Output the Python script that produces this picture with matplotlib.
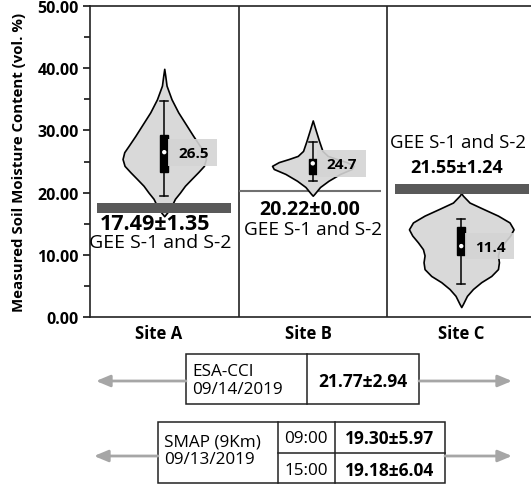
import matplotlib
matplotlib.use("Agg")
import matplotlib.pyplot as plt
from matplotlib.patches import Rectangle
from matplotlib.ticker import MultipleLocator, FormatStrFormatter

plt.rcParams['font.family'] = ['Open Sans', 'DejaVu Sans']

# ---------------- data ----------------
sites = ["Site A", "Site B", "Site C"]
positions = [0.5, 1.5, 2.5]

# violin profiles (value levels and half-widths in px)
violin_a_y = [16.2, 16.8, 18.2, 19.0, 20.0, 21.1, 22.2, 23.3, 24.3, 25.4, 26.5, 27.5, 29.1, 30.8, 32.9, 35.0, 37.2, 38.8, 39.9]
violin_a_w = [0.0, 3.0, 8.3, 10.7, 15.7, 20.7, 27.3, 34.0, 39.7, 41.7, 40.0, 35.7, 29.0, 22.3, 14.0, 7.3, 2.3, 1.0, 0.0]
violin_b_y = [19.5, 19.8, 20.9, 21.9, 23.0, 23.8, 24.3, 24.9, 25.4, 25.9, 26.7, 28.3, 30.0, 31.6]
violin_b_w = [0.0, 1.7, 7.3, 15.7, 27.3, 39.0, 40.7, 34.0, 24.0, 15.0, 9.7, 6.3, 3.0, 0.0]
violin_c_y = [1.6, 2.1, 3.4, 4.5, 5.6, 6.6, 7.7, 8.8, 9.9, 10.9, 12.0, 13.1, 14.1, 15.2, 16.3, 17.4, 18.4, 19.5, 19.9]
violin_c_w = [0.0, 1.7, 5.7, 11.7, 20.0, 30.0, 36.7, 37.7, 36.7, 38.3, 43.3, 49.0, 52.3, 48.3, 36.7, 21.7, 8.3, 1.7, 0.0]

# box plot statistics
medians = [26.5, 24.7, 11.4]
q1 = [23.3, 23.0, 9.9]
q3 = [29.3, 25.4, 14.4]
whis_lo = [19.5, 21.9, 5.3]
whis_hi = [34.8, 28.1, 15.8]
median_labels = ["26.5", "24.7", "11.4"]

# GEE S-1 and S-2 estimates
gee_means = ["17.49±1.35", "20.22±0.00", "21.55±1.24"]
gee_level = [17.49, 20.22, 20.6]
gee_label = "GEE S-1 and S-2"

# coarse products
esa_name = "ESA-CCI\n09/14/2019"
esa_value = "21.77±2.94"
smap_name = "SMAP (9Km)\n09/13/2019"
smap_times = ["09:00", "15:00"]
smap_values = ["19.30±5.97", "19.18±6.04"]

yticks = [0, 10, 20, 30, 40, 50]

# ---------------- figure ----------------
W, H = 531, 485
fig = plt.figure(figsize=(W / 100, H / 100), dpi=100)
ax_l, ax_r, ax_b, ax_t = 90, 531, 318, 7
ax = fig.add_axes([ax_l / W, 1 - ax_b / H, (ax_r - ax_l) / W, (ax_b - ax_t) / H])
px_per_unit = 148.5
ax.set_xlim(0, (ax_r - ax_l) / px_per_unit)
ax.set_ylim(0, 50)

# violins
profiles = [(violin_a_y, violin_a_w), (violin_b_y, violin_b_w), (violin_c_y, violin_c_w)]
vpstats = []
widths = []
for (ys, ws), m in zip(profiles, medians):
    vpstats.append(dict(coords=ys, vals=ws, mean=m, median=m, min=min(ys), max=max(ys)))
    widths.append(2 * max(ws) / px_per_unit)
parts = ax.violin(vpstats, positions=positions, widths=widths, showextrema=False)
for b in parts['bodies']:
    b.set_facecolor('#d9d9d9')
    b.set_edgecolor('black')
    b.set_linewidth(1.2)
    b.set_alpha(1)
    b.set_zorder(2)
    b.set_joinstyle('round')

# boxes
stats = []
for i in range(3):
    stats.append(dict(med=medians[i], q1=q1[i], q3=q3[i], whislo=whis_lo[i], whishi=whis_hi[i], fliers=[]))
ax.bxp(stats, positions=positions, widths=0.055, patch_artist=True, showfliers=False,
       boxprops=dict(facecolor='black', edgecolor='black', linewidth=1),
       whiskerprops=dict(color='black', linewidth=1.1),
       capprops=dict(color='black', linewidth=1.1),
       medianprops=dict(linewidth=0), capwidths=0.055, manage_ticks=False, zorder=3)
ax.scatter(positions, medians, s=10, color='white', zorder=5, edgecolors='none')

# median labels
for p, m, lab in zip(positions, medians, median_labels):
    ax.add_patch(Rectangle((p + 0.028, m - 2.15), 0.33, 4.3, facecolor='#d4d4d4',
                           edgecolor='none', alpha=0.9, zorder=4))
    ax.text(p + 0.095, m - 0.1, lab, fontsize=11, fontweight='bold', va='center', ha='left', zorder=6)

# GEE markers
ax.barh([gee_level[0]], [0.90], left=[0.047], height=1.6, color='#595959', zorder=4)
ax.hlines(gee_level[1], 1.0, 1.96, color='#707070', lw=1.5, zorder=1)
ax.barh([gee_level[2]], [0.90], left=[2.055], height=1.6, color='#595959', zorder=4)

ax.text(0.44, 14.1, gee_means[0], fontsize=15.5, fontweight='bold', ha='center', va='baseline')
ax.text(0.47, 11.2, gee_label, fontsize=14, ha='center', va='baseline')
ax.text(1.48, 16.6, gee_means[1], fontsize=14, fontweight='bold', ha='center', va='baseline')
ax.text(1.50, 13.3, gee_label, fontsize=13.7, ha='center', va='baseline')
ax.text(2.48, 27.3, gee_label, fontsize=13.4, ha='center', va='baseline')
ax.text(2.47, 23.3, gee_means[2], fontsize=13, fontweight='bold', ha='center', va='baseline')

# dividers and spines
for xv in [1, 2]:
    ax.axvline(xv, color='#222222', lw=1.2, zorder=0)
for s in ['left', 'top', 'bottom']:
    ax.spines[s].set_linewidth(1.2)
    ax.spines[s].set_color('#222222')
ax.spines['right'].set_visible(False)

ax.set_yticks(yticks)
ax.yaxis.set_major_formatter(FormatStrFormatter('%.2f'))
ax.yaxis.set_minor_locator(MultipleLocator(5))
ax.tick_params(axis='y', which='major', length=5, width=1.1, pad=3, labelsize=11.5, direction='out')
ax.tick_params(axis='y', which='minor', length=4, width=1.1, direction='out')
for t in ax.get_yticklabels():
    t.set_fontweight('bold')
ax.set_xticks([0.46, 1.47, 2.50])
ax.set_xticklabels(sites, fontsize=12, fontweight='bold')
ax.tick_params(axis='x', length=0, pad=5)
ax.set_ylabel("Measured Soil Moisture Content (vol. %)", fontsize=10.8, fontweight='bold')
ax.yaxis.set_label_coords((26 - ax_l) / (ax_r - ax_l), 0.5)

# ---------------- bottom tables (pixel coords) ----------------
tb = fig.add_axes([0, 0, 1, 1], zorder=-1)
tb.set_xlim(0, W)
tb.set_ylim(H, 0)
tb.axis('off')
lc = '#222222'
arrow_c = '#a6a6a6'

def arrow(x0, x1, y):
    tb.annotate('', xy=(x1, y), xytext=(x0, y),
                arrowprops=dict(arrowstyle='-|>,head_length=0.6,head_width=0.25', color=arrow_c,
                                lw=2, shrinkA=0, shrinkB=0, mutation_scale=14))

fs_t = 12.3
# ESA-CCI
tb.add_patch(Rectangle((186, 355), 233, 50, fill=False, edgecolor=lc, lw=1.1))
tb.plot([307, 307], [355, 405], color=lc, lw=1.1)
tb.text(192, 381, esa_name, fontsize=fs_t, ha='left', va='center', linespacing=1.1)
tb.text(363, 382, esa_value, fontsize=12.5, fontweight='bold', ha='center', va='center')
arrow(186, 96, 382)
arrow(419, 512, 382)

# SMAP
tb.add_patch(Rectangle((158, 423), 287, 61, fill=False, edgecolor=lc, lw=1.1))
tb.plot([278, 278], [423, 484], color=lc, lw=1.1)
tb.plot([335, 335], [423, 484], color=lc, lw=1.1)
tb.plot([278, 445], [454, 454], color=lc, lw=1.1)
tb.text(164, 451, smap_name, fontsize=fs_t, ha='left', va='center', linespacing=1.1)
for t, v, y in zip(smap_times, smap_values, [439, 471]):
    tb.text(306, y, t, fontsize=fs_t, ha='center', va='center')
    tb.text(390, y, v, fontsize=12.5, fontweight='bold', ha='center', va='center')
arrow(158, 94, 457)
arrow(445, 512, 457)

fig.savefig("out.png", dpi=100)
